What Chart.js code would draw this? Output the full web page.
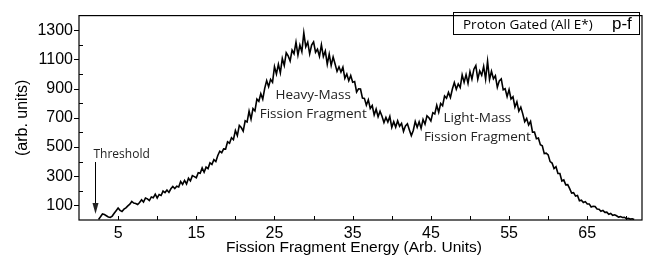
<!DOCTYPE html>
<html>
<head>
<meta charset="utf-8">
<script src="https://cdn.jsdelivr.net/npm/chart.js@4.4.1/dist/chart.umd.min.js"></script>
<style>
  html, body { margin: 0; padding: 0; background: #fff; }
  #wrap { width: 646px; height: 255px; position: relative; }
</style>
</head>
<body>
<div id="wrap"><canvas id="chart_1"></canvas></div>
<script>
// histogram bins: first bin centre and bin width (Arb. Units)
const binStart = 2.5;
const binWidth = 0.25;

// counts per bin (one row = one unit of energy)
const counts = [
  4, 22, 41, 37,     29, 21, 18, 27,     46, 64, 82, 66,     58, 74, 83, 97,
  108, 127, 116, 113, 106, 120, 139, 123, 151, 145, 133, 158, 152, 177, 151, 175,
  168, 198, 188, 205, 189, 214, 230, 216, 231, 226, 264, 244, 271, 247, 286, 268,
  304, 297, 289, 324, 320, 357, 327, 362, 352, 391, 381, 413, 400, 442, 471, 461,
  487, 486, 535, 526, 564, 550, 613, 578, 648, 633, 608, 679, 671, 745, 690, 763,
  747, 828, 813, 865, 828, 902, 955, 913, 963, 943, 1050, 1000, 1067, 1008, 1106, 1058,
  1145, 1124, 1089, 1164, 1139, 1218, 1130, 1198, 1153, 1282, 1186, 1218, 1138, 1198, 1220, 1149,
  1170, 1121, 1200, 1119, 1157, 1067, 1136, 1059, 1117, 1068, 1018, 1049, 1013, 1047, 970, 1000,
  954, 990, 944, 948, 877, 899, 897, 835, 833, 786, 823, 764, 784, 719, 759, 707,
  745, 711, 668, 703, 671, 709, 635, 673, 636, 679, 642, 662, 607, 645, 659, 617,
  578, 613, 675, 635, 673, 628, 689, 656, 714, 700, 678, 735, 726, 786, 738, 798,
  783, 849, 834, 874, 839, 897, 941, 896, 932, 907, 994, 943, 996, 936, 1017, 965,
  1033, 1058, 964, 1021, 991, 1052, 965, 1088, 962, 1019, 967, 988, 909, 953, 966, 892,
  899, 845, 893, 829, 844, 774, 809, 746, 773, 727, 673, 695, 651, 676, 602, 602,
  557, 561, 516, 509, 455, 458, 446, 400, 390, 352, 365, 318, 318, 267, 275, 241,
  242, 215, 184, 187, 164, 168, 132, 136, 120, 126, 110, 110, 89, 94, 92, 75,
  74, 60, 66, 52,    54, 39, 45, 32,    36, 29, 20, 23,    17, 19, 9, 11,
  6, 8, 3
];

// axis ranges and labelled ticks
const xRange = [0, 72];
const yRange = [0, 1400];
const xTickLabels = [5, 15, 25, 35, 45, 55, 65];
const yTickLabels = [100, 300, 500, 700, 900, 1100, 1300];
const xTitle = 'Fission Fragment Energy (Arb. Units)';
const yTitle = '(arb. units)';

// text notes placed at data coordinates
const notes = [
  { lines: ['Heavy-Mass', 'Fission Fragment'], x: 29.95, y: 857 },
  { lines: ['Light-Mass', 'Fission Fragment'], x: 50.95, y: 700 }
];
const thresholdAt = 2.0;

const points = counts.map((c, i) => ({ x: binStart + i * binWidth, y: c }));

const sansFamily = '"Liberation Sans", Arial, sans-serif';
const axisFont = { family: sansFamily, size: 16 };

const framePlugin = {
  id: 'frame',
  afterDraw(chart) {
    const ctx = chart.ctx;
    const a = chart.chartArea;
    const xs = chart.scales.x, ys = chart.scales.y;
    ctx.save();
    ctx.strokeStyle = '#000';
    ctx.lineWidth = 1.2;
    ctx.strokeRect(a.left, a.top, a.right - a.left, a.bottom - a.top);

    // x ticks, pointing into the plot
    ctx.lineWidth = 1;
    ctx.beginPath();
    for (let v = 5; v < xRange[1]; v += 5) {
      const px = Math.round(xs.getPixelForValue(v)) + 0.5;
      ctx.moveTo(px, a.bottom);
      ctx.lineTo(px, a.bottom - 4);
    }
    // y ticks: labelled ones outside, the rest inside
    for (let v = 100; v < yRange[1]; v += 100) {
      const py = Math.round(ys.getPixelForValue(v)) + 0.5;
      if (yTickLabels.includes(v)) {
        ctx.moveTo(a.left - 5, py);
        ctx.lineTo(a.left, py);
      } else {
        ctx.moveTo(a.left, py);
        ctx.lineTo(a.left + 4, py);
      }
    }
    ctx.stroke();

    // axis titles
    ctx.fillStyle = '#000';
    ctx.font = '15.5px ' + sansFamily;
    ctx.textAlign = 'center';
    ctx.textBaseline = 'middle';
    ctx.fillText(xTitle, 354, 248);
    ctx.save();
    ctx.translate(23, (a.top + a.bottom) / 2);
    ctx.rotate(-Math.PI / 2);
    ctx.font = '16px ' + sansFamily;
    ctx.fillText(yTitle, 0, 0);
    ctx.restore();

    // notes
    ctx.fillStyle = '#222';
    ctx.font = '13.5px "Open Sans", sans-serif';
    notes.forEach(n => {
      const px = xs.getPixelForValue(n.x);
      const py = ys.getPixelForValue(n.y);
      n.lines.forEach((t, k) => ctx.fillText(t, px, py + k * 19));
    });

    // threshold arrow
    const tx = Math.round(xs.getPixelForValue(thresholdAt)) + 0.5;
    ctx.textAlign = 'left';
    ctx.font = '12px "Open Sans", sans-serif';
    ctx.fillText('Threshold', tx - 2, 155);
    ctx.beginPath();
    ctx.moveTo(tx, 162);
    ctx.lineTo(tx, 212);
    ctx.stroke();
    ctx.beginPath();
    ctx.moveTo(tx - 3, 203);
    ctx.lineTo(tx, 214);
    ctx.lineTo(tx + 3, 203);
    ctx.closePath();
    ctx.fill();

    // legend box
    ctx.lineWidth = 1;
    ctx.strokeRect(453.5, 12.5, 186, 22);
    ctx.fillStyle = '#000';
    ctx.textBaseline = 'alphabetic';
    ctx.font = '13.5px "Open Sans", sans-serif';
    ctx.fillText('Proton Gated (All E*)', 463, 28.5);
    ctx.font = '17px ' + sansFamily;
    ctx.fillText('p-f', 612, 28.5);
    ctx.restore();
  }
};

window.addEventListener('DOMContentLoaded', () => {
  new Chart(document.getElementById('chart_1'), {
    type: 'line',
    data: {
      datasets: [{
        label: 'Proton Gated (All E*) p-f',
        data: points,
        borderColor: '#000',
        borderWidth: 1.6,
        pointRadius: 0,
        tension: 0
      }]
    },
    options: {
      responsive: true,
      maintainAspectRatio: false,
      animation: false,
      layout: { padding: { top: 9, right: 3, left: 0, bottom: 0 } },
      plugins: { legend: { display: false }, tooltip: { enabled: false } },
      scales: {
        x: {
          type: 'linear',
          min: xRange[0],
          max: xRange[1],
          grid: { display: false, drawTicks: false },
          border: { display: false },
          ticks: {
            stepSize: 5,
            padding: 4,
            color: '#000',
            font: axisFont,
            maxRotation: 0,
            autoSkip: false,
            callback: v => xTickLabels.includes(v) ? v : ''
          },
          afterFit: s => { s.height = 35; }
        },
        y: {
          min: yRange[0],
          max: yRange[1],
          grid: { display: false, drawTicks: false },
          border: { display: false },
          ticks: {
            stepSize: 100,
            padding: 6,
            color: '#000',
            font: axisFont,
            autoSkip: false,
            callback: v => yTickLabels.includes(v) ? v : ''
          },
          afterFit: s => { s.width = 79; }
        }
      }
    },
    plugins: [framePlugin]
  });
});
</script>
</body>
</html>
